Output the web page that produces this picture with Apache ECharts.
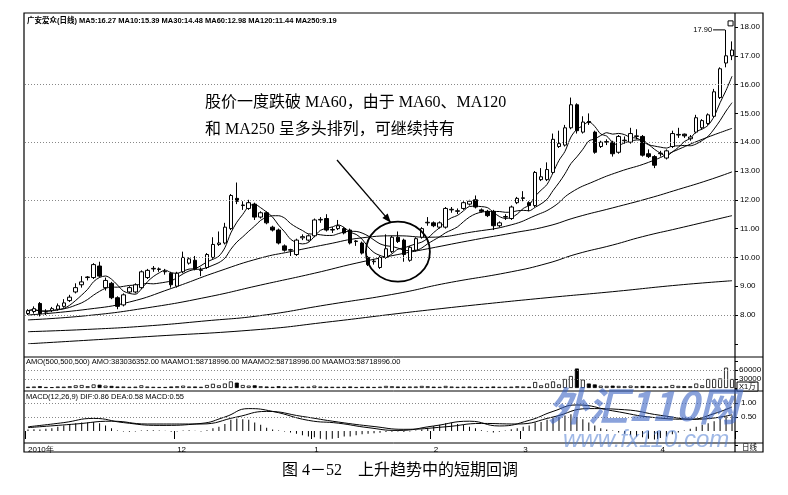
<!DOCTYPE html>
<html><head><meta charset="utf-8">
<script src="https://cdn.jsdelivr.net/npm/echarts/dist/echarts.min.js"></script>
<style>html,body{margin:0;padding:0;background:#fff}#c{width:788px;height:495px}</style>
</head><body><div id="c"></div>
<script>
// ---------- DATA ----------
const opens  = [8.05,8.12,8.4,8.1,8.15,8.2,8.3,8.5,8.8,9.05, 9.3,9.3,9.7,8.95,9.1,8.6,8.35,8.8,8.8,8.95, 9.3,9.6,9.58,9.5,9.45,9.0,9.5,9.8,9.9,9.55, 9.65,10.0,10.45,10.5,11.0,12.05,11.8,11.7,11.85,11.4, 11.55,11.05,10.95,10.4,10.25,10.1,10.68,10.6,10.75,11.3, 11.35,10.95,11.0,11.0,10.95,10.55,10.5,10.0,9.85,9.65, 10.0,10.2,10.7,10.6,9.9,10.25,10.7,11.2,11.2,11.05, 11.05,11.65,11.6,11.7,11.85,12.0,11.65,11.6,11.6,11.1, 11.4,11.35,11.9,12.05,11.9,11.8,12.7,12.7,12.95,13.85, 13.9,14.5,15.3,14.35,14.72,14.35,13.85,14.0,14.0,13.65, 14.05,14.0,14.2,14.2,13.6,13.5,13.6,13.45,13.85,14.25, 14.28,14.12,14.35,14.5,14.65,14.9,15.55,16.75,17.0];
const closes = [8.15,8.22,8.05,8.12,8.22,8.32,8.42,8.62,8.95,9.15, 9.32,9.75,9.35,9.2,8.6,8.3,8.7,8.95,9.05,9.5, 9.55,9.62,9.6,9.52,9.05,9.45,10.0,9.95,9.6,9.57, 10.1,10.45,10.5,11.05,12.15,11.95,11.82,11.9,11.4,11.55, 11.2,10.95,10.5,10.25,10.27,10.6,10.72,10.75,11.3,11.32, 10.95,10.97,11.1,10.85,10.5,10.57,10.15,9.75,9.87,10.0, 10.3,10.7,10.55,10.1,10.35,10.65,11.0,11.22,11.1,11.2, 11.7,11.67,11.62,11.9,11.95,11.75,11.6,11.45,11.1,11.2, 11.42,11.75,12.05,12.07,11.8,12.95,12.8,13.05,14.1,13.95, 14.5,15.3,14.4,14.7,14.68,13.65,14.0,14.02,13.6,14.2, 14.07,14.3,14.22,13.55,13.5,13.2,13.62,13.7,14.3,14.27, 14.22,14.18,14.85,14.75,14.95,15.75,16.55,17.0,17.2];
const lows   = [8.0,8.05,7.95,8.0,8.1,8.15,8.25,8.45,8.75,8.95, 9.2,9.25,9.3,8.85,8.55,8.2,8.3,8.75,8.75,8.9, 9.25,9.5,9.5,9.4,8.95,8.95,9.45,9.75,9.55,9.35, 9.6,9.95,10.4,10.45,10.95,11.85,11.65,11.65,11.3,11.35, 11.15,10.9,10.45,10.2,10.05,10.05,10.6,10.55,10.7,11.2, 10.9,10.85,10.95,10.8,10.45,10.4,10.1,9.7,9.75,9.6, 9.95,10.15,10.5,9.85,9.85,10.2,10.65,11.1,11.05,11.0, 11.0,11.55,11.5,11.65,11.8,11.7,11.55,11.4,10.95,11.05, 11.3,11.3,11.85,11.95,11.6,11.75,12.65,12.65,12.9,13.8, 13.85,14.45,14.3,14.3,14.6,13.6,13.8,13.9,13.5,13.6, 13.95,13.95,14.1,13.5,13.45,13.1,13.5,13.4,13.8,14.15, 14.15,14.05,14.3,14.45,14.6,14.85,15.5,16.6,16.85];
const highs  = [8.2,8.3,8.45,8.2,8.28,8.4,8.55,8.7,9.1,9.35, 9.35,9.8,9.85,9.3,9.15,8.65,8.75,9.0,9.1,9.55, 9.6,9.7,9.65,9.6,9.5,9.5,10.2,10.0,10.05,9.65, 10.15,10.7,10.9,11.2,12.2,12.6,11.95,12.0,11.9,11.6, 11.6,11.1,11.0,10.45,10.3,10.65,10.8,10.8,11.35,11.4, 11.5,11.05,11.3,11.05,11.0,10.6,10.55,10.05,9.95,10.05, 10.8,10.75,10.9,10.65,10.4,10.7,11.05,11.4,11.25,11.25, 11.75,11.75,11.7,11.95,12.0,12.15,11.7,11.65,11.65,11.25, 11.5,11.8,12.1,12.3,11.95,13.0,13.1,13.3,14.3,14.4, 14.6,15.55,15.35,14.9,15.0,14.4,14.05,14.1,14.05,14.25, 14.2,14.5,14.45,14.25,13.75,13.55,13.7,13.75,14.4,14.5, 14.3,14.25,14.95,14.8,15.0,15.85,16.6,17.9,17.5];
// AMO (x1万)
const amounts = [4000,5000,6000,3500,3000,5000,4500,6000,9000,10000, 6000,12000,11000,8000,7000,5000,5000,4000,4500,9000, 5000,4000,3500,3500,5000,6000,8000,5000,5000,4000, 10000,14000,9000,15000,22000,18000,10000,8000,9000,6000, 5000,4000,6000,4500,4000,6000,4000,4500,8000,5000, 4500,4000,4000,4000,5000,3500,4000,4500,3500,4500, 7000,6000,5000,4500,5000,5000,7000,6000,4500,4000, 7000,5000,4000,4500,5000,4000,3500,4000,5000,4000, 4000,4500,6000,5000,4000,20000,9000,15000,22000,12000, 30000,40000,65000,28000,15000,12000,8000,7000,8000,7000, 6000,8000,6000,7000,6000,5000,5000,6000,10000,7000, 6000,6000,15000,9000,30000,30000,32000,68000,30000];
// MACD histogram
const macdBars = [0.05,0.06,0.05,0.08,0.1, 0.15,0.2,0.25,0.28,0.3,0.3,0.32,0.28,0.2,0.1, 0.02,-0.02,-0.03,-0.02,0.02,0.03,0.03,0.02,0.01,-0.03,-0.02,0.02,0.03,0.01,-0.02,0.03, 0.1,0.15,0.25,0.4,0.45,0.42,0.4,0.3,0.22,0.12, 0.05,0.02,-0.02,-0.05, -0.1,-0.15,-0.2,-0.22,-0.28,-0.3,-0.28,-0.25,-0.2,-0.2,-0.15,-0.12,-0.1,-0.08, -0.06,-0.04,-0.03,-0.02,-0.04,-0.02,0.02,0.05, 0.12,0.18,0.22,0.28,0.3,0.25,0.22,0.15,0.1, 0.03,-0.02,-0.05,-0.03,0.02,0.06,0.1, 0.15,0.2,0.3,0.32,0.4,0.48,0.5,0.55,0.6,0.5,0.42,0.3, 0.2,0.1,0.05,0.02,-0.05,-0.1, -0.15,-0.2,-0.22,-0.28,-0.3,-0.25,-0.2,-0.12,-0.05,0.02, 0.08,0.15,0.22,0.28,0.35,0.45,0.52,0.55];
// long moving averages, read as [day index, value]
const ma30Pts  = [[0,8.0],[10,8.2],[17,8.45],[24,8.92],[32,9.52],[39,9.98],[44,10.2],[50,10.45],[56,10.68],[62,10.75],[67,10.7],[75,10.9],[81,11.13],[85,11.45],[88,11.75],[91,12.25],[95,12.65],[99,12.97],[104,13.3],[109,13.75],[113,14.1],[118,14.48]];
const ma60Pts  = [[0,7.83],[10,7.98],[20,8.25],[30,8.62],[39,9.04],[48,9.45],[55,9.8],[62,10.1],[67,10.3],[75,10.62],[81,10.84],[87,11.08],[92,11.4],[98,11.72],[104,12.05],[109,12.36],[114,12.68],[118,12.97]];
const ma120Pts = [[0,7.42],[10,7.5],[20,7.62],[30,7.8],[39,7.98],[50,8.35],[62,8.75],[70,9.1],[81,9.5],[87,9.79],[92,10.12],[98,10.43],[103,10.72],[109,11.01],[118,11.45]];
const ma250Pts = [[0,7.0],[20,7.25],[39,7.5],[50,7.75],[62,8.05],[67,8.17],[75,8.35],[87,8.6],[98,8.81],[109,9.04],[118,9.19]];
const difPts = [[0,0.15],[6,0.3],[11,0.45],[16,0.3],[22,0.2],[29,0.27],[33,0.5],[37,0.8],[41,0.7],[47,0.38],[52,0.28],[57,0.12],[62,0.02],[68,0.18],[74,0.35],[79,0.18],[84,0.38],[88,0.7],[92,0.93],[98,0.72],[105,0.48],[111,0.42],[115,0.62],[118,0.86]];
const deaPts = [[0,0.12],[8,0.25],[14,0.35],[20,0.25],[29,0.25],[35,0.5],[40,0.7],[46,0.52],[52,0.32],[58,0.16],[63,0.06],[70,0.15],[76,0.27],[82,0.25],[88,0.5],[94,0.8],[100,0.76],[106,0.56],[112,0.42],[118,0.58]];
// tick labels
const monthTicks = {0:'2010年',25:'12',48:'1',68:'2',83:'3',106:'4'};
const priceGridLevels = [8,10,12,14,16];
const headerText = '广安爱众(日线) MA5:16.27 MA10:15.39 MA30:14.48 MA60:12.98 MA120:11.44 MA250:9.19';
const amoText = 'AMO(500,500,500) AMO:383036352.00 MAAMO1:58718996.00 MAAMO2:58718996.00 MAAMO3:58718996.00';
const macdText = 'MACD(12,26,9) DIF:0.86 DEA:0.58 MACD:0.55';
const noteLine1 = '股价一度跌破 MA60，由于 MA60、MA120';
const noteLine2 = '和 MA250 呈多头排列，可继续持有';
const caption = '图 4－52　上升趋势中的短期回调';
const circledDay = 62, circledPrice = 10.2;
const highDay = 117, highValue = 17.90;

// ---------- CHART ----------
const cats = opens.map((_, i) => String(i));
const ohlc = opens.map((o, i) => [o, closes[i], lows[i], highs[i]]);
function movingAvg(n) {
  return closes.map((_, i) => {
    const s = Math.max(0, i - n + 1); let t = 0;
    for (let k = s; k <= i; k++) t += closes[k];
    return +(t / (i - s + 1)).toFixed(3);
  });
}
const amoData = amounts.map((v, i) => ({ value: v, itemStyle: { color: closes[i] >= opens[i] ? '#fff' : '#000', borderColor: '#000', borderWidth: 0.8 } }));
const dotted = { color: '#888', type: [1, 2], width: 1 };
const lbl = { color: '#000', fontSize: 8, fontFamily: 'Liberation Sans' };
const lineS = (name, data, xi, yi, smooth) => ({ name, type: 'line', data, xAxisIndex: xi, yAxisIndex: yi, symbol: 'none', smooth, lineStyle: { color: '#000', width: 1 }, silent: true, z: 3 });

const chart = echarts.init(document.getElementById('c'), null, { renderer: 'canvas' });
const L = 25, R = 53;
chart.setOption({
  animation: false,
  backgroundColor: '#fff',
  grid: [
    { left: L, right: R, top: 27, height: 316.8 },
    { left: L, right: R, top: 361, height: 27 },
    { left: L, right: R, top: 389, height: 56 }
  ],
  xAxis: [0, 1, 2].map(g => ({
    type: 'category', data: cats, gridIndex: g, boundaryGap: true,
    axisLine: { show: false },
    axisTick: g === 2 ? { show: true, interval: (i) => monthTicks[i] !== undefined, length: 8, lineStyle: { color: '#000' } } : { show: false },
    axisLabel: g === 2 ? { show: true, interval: (i) => monthTicks[i] !== undefined, formatter: (v, i) => monthTicks[i] || '', align: 'left', verticalAlign: 'top', margin: 1, ...lbl } : { show: false },
    splitLine: { show: false }
  })),
  yAxis: [
    { gridIndex: 0, position: 'right', min: 7, max: 18, interval: 1, axisLine: { show: false },
      axisTick: { show: true, length: 3, lineStyle: { color: '#000' } },
      axisLabel: { formatter: v => v >= 8 ? v.toFixed(2) : '', margin: 5, ...lbl }, splitLine: { show: false } },
    { gridIndex: 1, position: 'right', min: 0, max: 90000, interval: 30000, axisLine: { show: false },
      axisTick: { show: true, length: 3, lineStyle: { color: '#000' } },
      axisLabel: { formatter: v => (v === 30000 || v === 60000) ? String(v) : '', margin: 4, ...lbl }, splitLine: { show: false } },
    { gridIndex: 2, position: 'right', min: -0.5, max: 1.5, interval: 0.5, axisLine: { show: false },
      axisTick: { show: true, length: 3, lineStyle: { color: '#000' } },
      axisLabel: { formatter: v => (v === 0.5 || v === 1) ? v.toFixed(2) : '', margin: 6, ...lbl }, splitLine: { show: false } }
  ],
  series: [
    { type: 'candlestick', data: ohlc, xAxisIndex: 0, yAxisIndex: 0, barWidth: 4,
      itemStyle: { color: '#fff', color0: '#000', borderColor: '#000', borderColor0: '#000', borderWidth: 1 },
      markLine: { silent: true, symbol: 'none', label: { show: false }, lineStyle: dotted, data: priceGridLevels.map(v => ({ yAxis: v })) }, z: 4 },
    lineS('MA5', movingAvg(5), 0, 0, 0.3),
    lineS('MA10', movingAvg(10), 0, 0, 0.3),
    lineS('MA30', ma30Pts, 0, 0, true),
    lineS('MA60', ma60Pts, 0, 0, true),
    lineS('MA120', ma120Pts, 0, 0, true),
    lineS('MA250', ma250Pts, 0, 0, true),
    { type: 'bar', data: amoData, xAxisIndex: 1, yAxisIndex: 1, barWidth: 4,
      markLine: { silent: true, symbol: 'none', label: { show: false }, lineStyle: dotted, data: [{ yAxis: 30000 }, { yAxis: 60000 }] } },
    { type: 'bar', data: macdBars, xAxisIndex: 2, yAxisIndex: 2, barWidth: 1, itemStyle: { color: '#000' },
      markLine: { silent: true, symbol: 'none', label: { show: false }, lineStyle: dotted, data: [{ yAxis: 0.5 }, { yAxis: 1 }] } },
    lineS('DIF', difPts, 2, 2, true),
    lineS('DEA', deaPts, 2, 2, true)
  ]
});

// ---------- ANNOTATIONS ----------
const cc = chart.convertToPixel({ xAxisIndex: 0, yAxisIndex: 0 }, [circledDay, circledPrice]);
const hp = chart.convertToPixel({ xAxisIndex: 0, yAxisIndex: 0 }, [highDay, highValue]);
const a0 = [337, 160], a1 = [cc[0] - 7, cc[1] - 29];
const dx = a1[0] - a0[0], dy = a1[1] - a0[1], dl = Math.hypot(dx, dy), ux = dx / dl, uy = dy / dl;
const head = [a1, [a1[0] - ux * 9 - uy * 3.5, a1[1] - uy * 9 + ux * 3.5], [a1[0] - ux * 9 + uy * 3.5, a1[1] - uy * 9 - ux * 3.5]];
const T = (x, y, text, font, extra) => ({ type: 'text', silent: true, z: 100, style: Object.assign({ x, y, text, font, fill: '#000', textVerticalAlign: 'middle', verticalAlign: 'middle' }, extra || {}) });
const ln = (x1, y1, x2, y2, w) => ({ type: 'line', silent: true, z: 90, shape: { x1, y1, x2, y2 }, style: { stroke: '#000', lineWidth: w || 1 } });
const small = '7.5px "Liberation Sans", "Noto Sans CJK SC"';
const note = '16px "Liberation Serif", "Noto Sans CJK SC"';
chart.setOption({
  graphic: [
    { type: 'rect', silent: true, z: 90, shape: { x: 24, y: 13, width: 739, height: 439 }, style: { fill: 'none', stroke: '#000', lineWidth: 1.2 } },
    ln(735, 13, 735, 452, 1.2),
    ln(24, 357, 763, 357), ln(24, 391, 763, 391), ln(24, 443, 763, 443),
    { type: 'rect', silent: true, z: 90, shape: { x: 737, y: 382, width: 21, height: 9 }, style: { fill: '#fff', stroke: '#000', lineWidth: 1 } },
    T(739, 387, 'X1万', small),
    T(742, 448, '日线', small),
    T(27, 21, headerText, 'bold ' + small),
    T(26, 362, amoText, small),
    T(26, 397, macdText, small),
    T(205, 103, noteLine1, note),
    T(205, 130, noteLine2, note),
    T(400, 471, caption, '16px "Liberation Serif", "Noto Sans CJK SC"', { textAlign: 'center', align: 'center' }),
    { type: 'line', silent: true, z: 95, shape: { x1: a0[0], y1: a0[1], x2: a1[0], y2: a1[1] }, style: { stroke: '#000', lineWidth: 1.3 } },
    { type: 'polygon', silent: true, z: 95, shape: { points: head }, style: { fill: '#000' } },
    { type: 'circle', silent: true, z: 95, x: cc[0], y: cc[1], scaleY: 0.94, shape: { cx: 0, cy: 0, r: 32 }, style: { fill: 'none', stroke: '#000', lineWidth: 1.8 } },
    T(hp[0] - 14, hp[1], highValue.toFixed(2), small, { textAlign: 'right', align: 'right' }),
    ln(hp[0] - 13, hp[1], hp[0] - 1, hp[1]),
    { type: 'rect', silent: true, z: 95, shape: { x: hp[0] + 2, y: hp[1] - 9, width: 5, height: 5 }, style: { fill: '#fff', stroke: '#000', lineWidth: 1 } },
    T(548, 406, '外汇110网', 'italic bold 40px "Noto Sans CJK SC"', { fill: 'rgba(60,100,195,0.6)' }),
    T(563, 440, 'www.fx110.com', 'italic 24px "Liberation Sans"', { fill: 'rgba(80,125,210,0.55)' })
  ]
});
</script></body></html>
